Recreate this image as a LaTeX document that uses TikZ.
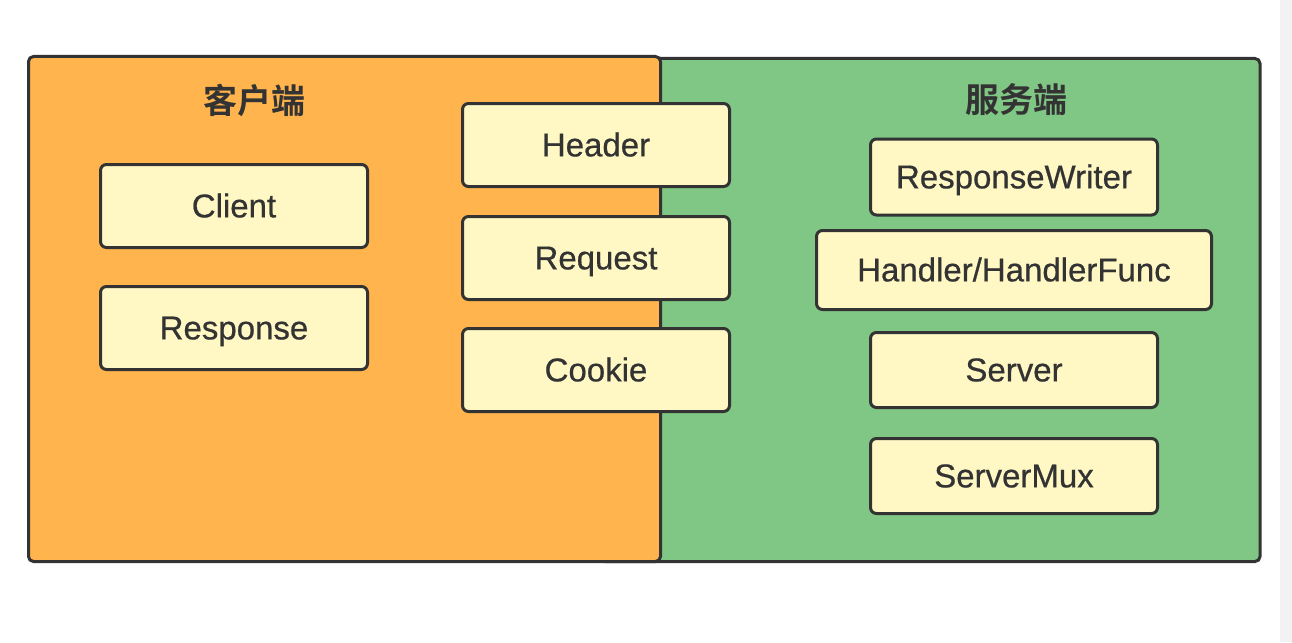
\documentclass[tikz,border=0pt]{standalone}
\usepackage{fontspec}
\setmainfont{Liberation Sans}[FakeBold=0.6]
\newfontfamily\cjk{Noto Sans CJK SC}[BoldFont={Noto Sans CJK SC Bold}]
\definecolor{orangebg}{HTML}{FFB44D}
\definecolor{greenbg}{HTML}{80C684}
\definecolor{boxfill}{HTML}{FFF8C4}
\definecolor{ink}{HTML}{333333}
\definecolor{stripgray}{HTML}{F2F2F2}
\tikzset{
  panel/.style={draw=ink, line width=3pt, rounded corners=5pt},
  item/.style={draw=ink, fill=boxfill, line width=3pt, rounded corners=6pt,
    text=ink, font=\fontsize{33}{38}\selectfont, inner sep=0pt,
    text height=22.7pt, text depth=0pt},
  title/.style={text=ink, font=\cjk\bfseries\fontsize{34}{40}\selectfont, inner sep=0pt}
}
\begin{document}
\begin{tikzpicture}[x=1pt, y=-1pt]
\useasboundingbox (0,0) rectangle (1292,642);
\fill[white] (0,0) rectangle (1292,642);
\fill[stripgray] (1280,0) rectangle (1292,642);
% panels
\path[panel, fill=greenbg] (600,58.5) rectangle (1260,561.5);
\path[panel, fill=orangebg] (28.5,56.5) rectangle (660.5,561.5);
\node[title] (tclient) at (254,100) {客户端};
\node[title] (tserver) at (1016,100) {服务端};
% client items
\node[item, minimum width=267pt, minimum height=83pt] (client) at (234,206) {Client};
\node[item, minimum width=267pt, minimum height=83pt] (response) at (234,328) {Response};
% shared items
\node[item, minimum width=267pt, minimum height=83pt] (header) at (596,145) {Header};
\node[item, minimum width=267pt, minimum height=83pt] (request) at (596,258) {Request};
\node[item, minimum width=267pt, minimum height=83pt] (cookie) at (596,370) {Cookie};
% server items
\node[item, minimum width=287pt, minimum height=76pt] (rw) at (1014,177) {ResponseWriter};
\node[item, minimum width=395pt, minimum height=79pt] (handler) at (1014,270) {Handler/HandlerFunc};
\node[item, minimum width=287pt, minimum height=75pt] (server) at (1014,370) {Server};
\node[item, minimum width=287pt, minimum height=75pt] (mux) at (1014,476) {ServerMux};
\end{tikzpicture}
\end{document}
